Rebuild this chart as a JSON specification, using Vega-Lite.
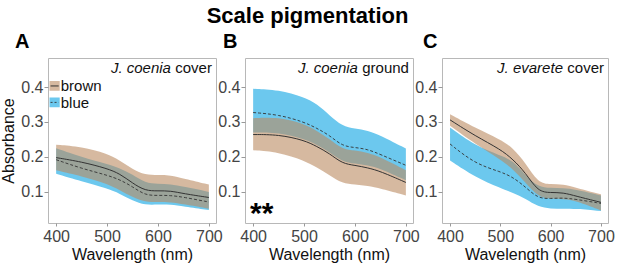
{
  "$schema": "https://vega.github.io/schema/vega-lite/v6.json",
  "padding": {"left": 0, "top": 4, "right": 0, "bottom": 4},
  "background": "white",
  "title": {"text": "Scale pigmentation", "fontSize": 22, "fontWeight": "bold", "anchor": "middle", "frame": "bounds", "color": "#000", "font": "Liberation Sans", "offset": 4},
  "config": {
    "font": "Liberation Sans",
    "view": {"stroke": "#b8b8b8", "strokeWidth": 1},
    "axis": {"labelFontSize": 16, "titleFontSize": 16, "titleFontWeight": "normal", "labelColor": "#444", "titleColor": "#111", "grid": false, "domain": false, "tickColor": "#999", "labelFont": "Liberation Sans", "titleFont": "Liberation Sans"},
    "title": {"font": "Liberation Sans"}
  },
  "datasets": {
    "d": [
      {"panel": "A", "s": "blue", "wl": 400, "lo": 0.152, "mid": 0.192, "hi": 0.225},
      {"panel": "A", "s": "blue", "wl": 450, "lo": 0.130, "mid": 0.167, "hi": 0.200},
      {"panel": "A", "s": "blue", "wl": 500, "lo": 0.110, "mid": 0.148, "hi": 0.180},
      {"panel": "A", "s": "blue", "wl": 525, "lo": 0.095, "mid": 0.135, "hi": 0.168},
      {"panel": "A", "s": "blue", "wl": 550, "lo": 0.075, "mid": 0.115, "hi": 0.150},
      {"panel": "A", "s": "blue", "wl": 575, "lo": 0.062, "mid": 0.090, "hi": 0.125},
      {"panel": "A", "s": "blue", "wl": 600, "lo": 0.064, "mid": 0.090, "hi": 0.123},
      {"panel": "A", "s": "blue", "wl": 625, "lo": 0.064, "mid": 0.090, "hi": 0.122},
      {"panel": "A", "s": "blue", "wl": 650, "lo": 0.058, "mid": 0.085, "hi": 0.115},
      {"panel": "A", "s": "blue", "wl": 700, "lo": 0.048, "mid": 0.071, "hi": 0.100},
      {"panel": "A", "s": "brown", "wl": 400, "lo": 0.162, "mid": 0.198, "hi": 0.235},
      {"panel": "A", "s": "brown", "wl": 450, "lo": 0.145, "mid": 0.186, "hi": 0.229},
      {"panel": "A", "s": "brown", "wl": 500, "lo": 0.124, "mid": 0.167, "hi": 0.210},
      {"panel": "A", "s": "brown", "wl": 525, "lo": 0.105, "mid": 0.152, "hi": 0.190},
      {"panel": "A", "s": "brown", "wl": 550, "lo": 0.085, "mid": 0.125, "hi": 0.165},
      {"panel": "A", "s": "brown", "wl": 575, "lo": 0.071, "mid": 0.103, "hi": 0.148},
      {"panel": "A", "s": "brown", "wl": 600, "lo": 0.071, "mid": 0.103, "hi": 0.148},
      {"panel": "A", "s": "brown", "wl": 625, "lo": 0.071, "mid": 0.103, "hi": 0.148},
      {"panel": "A", "s": "brown", "wl": 650, "lo": 0.065, "mid": 0.095, "hi": 0.138},
      {"panel": "A", "s": "brown", "wl": 700, "lo": 0.052, "mid": 0.084, "hi": 0.121},
      {"panel": "B", "s": "blue", "wl": 400, "lo": 0.270, "mid": 0.327, "hi": 0.395},
      {"panel": "B", "s": "blue", "wl": 450, "lo": 0.270, "mid": 0.321, "hi": 0.392},
      {"panel": "B", "s": "blue", "wl": 500, "lo": 0.252, "mid": 0.300, "hi": 0.371},
      {"panel": "B", "s": "blue", "wl": 525, "lo": 0.235, "mid": 0.282, "hi": 0.352},
      {"panel": "B", "s": "blue", "wl": 550, "lo": 0.214, "mid": 0.262, "hi": 0.319},
      {"panel": "B", "s": "blue", "wl": 575, "lo": 0.186, "mid": 0.231, "hi": 0.288},
      {"panel": "B", "s": "blue", "wl": 600, "lo": 0.181, "mid": 0.227, "hi": 0.281},
      {"panel": "B", "s": "blue", "wl": 625, "lo": 0.176, "mid": 0.222, "hi": 0.276},
      {"panel": "B", "s": "blue", "wl": 650, "lo": 0.167, "mid": 0.207, "hi": 0.262},
      {"panel": "B", "s": "blue", "wl": 700, "lo": 0.133, "mid": 0.176, "hi": 0.224},
      {"panel": "B", "s": "brown", "wl": 400, "lo": 0.219, "mid": 0.264, "hi": 0.311},
      {"panel": "B", "s": "brown", "wl": 450, "lo": 0.214, "mid": 0.264, "hi": 0.314},
      {"panel": "B", "s": "brown", "wl": 500, "lo": 0.190, "mid": 0.248, "hi": 0.295},
      {"panel": "B", "s": "brown", "wl": 525, "lo": 0.170, "mid": 0.230, "hi": 0.275},
      {"panel": "B", "s": "brown", "wl": 550, "lo": 0.148, "mid": 0.210, "hi": 0.252},
      {"panel": "B", "s": "brown", "wl": 575, "lo": 0.124, "mid": 0.181, "hi": 0.222},
      {"panel": "B", "s": "brown", "wl": 600, "lo": 0.121, "mid": 0.176, "hi": 0.219},
      {"panel": "B", "s": "brown", "wl": 625, "lo": 0.117, "mid": 0.169, "hi": 0.212},
      {"panel": "B", "s": "brown", "wl": 650, "lo": 0.110, "mid": 0.159, "hi": 0.200},
      {"panel": "B", "s": "brown", "wl": 700, "lo": 0.090, "mid": 0.127, "hi": 0.162},
      {"panel": "C", "s": "blue", "wl": 400, "lo": 0.190, "mid": 0.237, "hi": 0.284},
      {"panel": "C", "s": "blue", "wl": 450, "lo": 0.142, "mid": 0.180, "hi": 0.232},
      {"panel": "C", "s": "blue", "wl": 500, "lo": 0.111, "mid": 0.158, "hi": 0.204},
      {"panel": "C", "s": "blue", "wl": 525, "lo": 0.097, "mid": 0.142, "hi": 0.190},
      {"panel": "C", "s": "blue", "wl": 550, "lo": 0.081, "mid": 0.114, "hi": 0.147},
      {"panel": "C", "s": "blue", "wl": 575, "lo": 0.057, "mid": 0.081, "hi": 0.114},
      {"panel": "C", "s": "blue", "wl": 600, "lo": 0.052, "mid": 0.081, "hi": 0.111},
      {"panel": "C", "s": "blue", "wl": 625, "lo": 0.052, "mid": 0.083, "hi": 0.111},
      {"panel": "C", "s": "blue", "wl": 650, "lo": 0.052, "mid": 0.079, "hi": 0.107},
      {"panel": "C", "s": "blue", "wl": 700, "lo": 0.045, "mid": 0.067, "hi": 0.090},
      {"panel": "C", "s": "brown", "wl": 400, "lo": 0.289, "mid": 0.306, "hi": 0.322},
      {"panel": "C", "s": "brown", "wl": 450, "lo": 0.237, "mid": 0.260, "hi": 0.283},
      {"panel": "C", "s": "brown", "wl": 500, "lo": 0.193, "mid": 0.222, "hi": 0.250},
      {"panel": "C", "s": "brown", "wl": 525, "lo": 0.165, "mid": 0.193, "hi": 0.226},
      {"panel": "C", "s": "brown", "wl": 550, "lo": 0.127, "mid": 0.155, "hi": 0.183},
      {"panel": "C", "s": "brown", "wl": 575, "lo": 0.085, "mid": 0.100, "hi": 0.125},
      {"panel": "C", "s": "brown", "wl": 600, "lo": 0.080, "mid": 0.098, "hi": 0.122},
      {"panel": "C", "s": "brown", "wl": 625, "lo": 0.080, "mid": 0.098, "hi": 0.122},
      {"panel": "C", "s": "brown", "wl": 650, "lo": 0.075, "mid": 0.088, "hi": 0.112},
      {"panel": "C", "s": "brown", "wl": 700, "lo": 0.047, "mid": 0.070, "hi": 0.093}
    ]
  },
  "hconcat": [
    {
      "width": 168, "height": 165,
      "title": {"text": "A", "anchor": "start", "frame": "group", "dx": -33, "fontSize": 20, "fontWeight": "bold", "offset": 6, "color": "#000"},
      "encoding": {
        "x": {"type": "quantitative", "scale": {"domain": [384, 714], "nice": false, "zero": false}, "axis": {"values": [400, 500, 600, 700], "tickSize": 3, "labelPadding": 2, "labelFlush": false, "title": "Wavelength (nm)", "titlePadding": 2}},
        "y": {"type": "quantitative", "scale": {"domain": [0.011, 0.483], "nice": false, "zero": false}, "axis": {"values": [0.1, 0.2, 0.3, 0.4], "format": ".1f", "tickSize": 4, "labelPadding": 1, "title": "Absorbance", "titlePadding": 4}}
      },
      "layer": [
        {"data": {"name": "d"}, "transform": [{"filter": "datum.panel === 'A' && datum.s === 'blue'"}], "mark": {"type": "area", "interpolate": "basis", "color": "#6cc8ee", "opacity": 1}, "encoding": {"x": {"field": "wl", "type": "quantitative"}, "y": {"field": "lo", "type": "quantitative"}, "y2": {"field": "hi"}}},
        {"data": {"name": "d"}, "transform": [{"filter": "datum.panel === 'A' && datum.s === 'brown'"}], "mark": {"type": "area", "interpolate": "basis", "color": "#bb8a61", "opacity": 0.6}, "encoding": {"x": {"field": "wl", "type": "quantitative"}, "y": {"field": "lo", "type": "quantitative"}, "y2": {"field": "hi"}}},
        {"data": {"name": "d"}, "transform": [{"filter": "datum.panel === 'A' && datum.s === 'brown'"}], "mark": {"type": "line", "interpolate": "basis", "color": "#333", "strokeWidth": 1}, "encoding": {"x": {"field": "wl", "type": "quantitative"}, "y": {"field": "mid", "type": "quantitative"}}},
        {"data": {"name": "d"}, "transform": [{"filter": "datum.panel === 'A' && datum.s === 'blue'"}], "mark": {"type": "line", "interpolate": "basis", "color": "#333", "strokeWidth": 0.9, "strokeDash": [3, 2]}, "encoding": {"x": {"field": "wl", "type": "quantitative"}, "y": {"field": "mid", "type": "quantitative"}}},
        {"data": {"values": [{}]}, "mark": {"type": "rect", "color": "#d6b9a0"}, "encoding": {"x": {"datum": 387}, "x2": {"datum": 407}, "y": {"datum": 0.417}, "y2": {"datum": 0.389}}},
        {"data": {"values": [{}]}, "mark": {"type": "rect", "color": "#6cc8ee"}, "encoding": {"x": {"datum": 387}, "x2": {"datum": 407}, "y": {"datum": 0.370}, "y2": {"datum": 0.342}}},
        {"data": {"values": [{}]}, "mark": {"type": "rule", "color": "#333", "strokeWidth": 1}, "encoding": {"x": {"datum": 389}, "x2": {"datum": 405}, "y": {"datum": 0.403}}},
        {"data": {"values": [{}]}, "mark": {"type": "rule", "color": "#333", "strokeWidth": 0.9, "strokeDash": [2, 2]}, "encoding": {"x": {"datum": 389}, "x2": {"datum": 405}, "y": {"datum": 0.356}}},
        {"data": {"values": [{}]}, "mark": {"type": "text", "align": "left", "baseline": "middle", "fontSize": 15, "color": "#111"}, "encoding": {"x": {"datum": 409}, "y": {"datum": 0.404}, "text": {"value": "brown"}}},
        {"data": {"values": [{}]}, "mark": {"type": "text", "align": "left", "baseline": "middle", "fontSize": 15, "color": "#111"}, "encoding": {"x": {"datum": 409}, "y": {"datum": 0.355}, "text": {"value": "blue"}}},
        {"data": {"values": [{}]}, "mark": {"type": "text", "align": "right", "baseline": "alphabetic", "fontSize": 15, "color": "#111"}, "encoding": {"x": {"datum": 706}, "y": {"datum": 0.44}, "text": {"value": "cover"}}},
        {"data": {"values": [{}]}, "mark": {"type": "text", "align": "right", "baseline": "alphabetic", "fontSize": 15, "fontStyle": "italic", "color": "#111", "dx": -41}, "encoding": {"x": {"datum": 706}, "y": {"datum": 0.44}, "text": {"value": "J. coenia"}}}
      ]
    },
    {
      "width": 168, "height": 165,
      "title": {"text": "B", "anchor": "start", "frame": "group", "dx": -22, "fontSize": 20, "fontWeight": "bold", "offset": 6, "color": "#000"},
      "encoding": {
        "x": {"type": "quantitative", "scale": {"domain": [384, 714], "nice": false, "zero": false}, "axis": {"values": [400, 500, 600, 700], "tickSize": 3, "labelPadding": 2, "labelFlush": false, "title": "Wavelength (nm)", "titlePadding": 2}},
        "y": {"type": "quantitative", "scale": {"domain": [0.011, 0.483], "nice": false, "zero": false}, "axis": {"values": [0.1, 0.2, 0.3, 0.4], "format": ".1f", "tickSize": 4, "labelPadding": 1, "title": null}}
      },
      "layer": [
        {"data": {"name": "d"}, "transform": [{"filter": "datum.panel === 'B' && datum.s === 'blue'"}], "mark": {"type": "area", "interpolate": "basis", "color": "#6cc8ee", "opacity": 1}, "encoding": {"x": {"field": "wl", "type": "quantitative"}, "y": {"field": "lo", "type": "quantitative"}, "y2": {"field": "hi"}}},
        {"data": {"name": "d"}, "transform": [{"filter": "datum.panel === 'B' && datum.s === 'brown'"}], "mark": {"type": "area", "interpolate": "basis", "color": "#bb8a61", "opacity": 0.6}, "encoding": {"x": {"field": "wl", "type": "quantitative"}, "y": {"field": "lo", "type": "quantitative"}, "y2": {"field": "hi"}}},
        {"data": {"name": "d"}, "transform": [{"filter": "datum.panel === 'B' && datum.s === 'brown'"}], "mark": {"type": "line", "interpolate": "basis", "color": "#333", "strokeWidth": 1}, "encoding": {"x": {"field": "wl", "type": "quantitative"}, "y": {"field": "mid", "type": "quantitative"}}},
        {"data": {"name": "d"}, "transform": [{"filter": "datum.panel === 'B' && datum.s === 'blue'"}], "mark": {"type": "line", "interpolate": "basis", "color": "#333", "strokeWidth": 0.9, "strokeDash": [3, 2]}, "encoding": {"x": {"field": "wl", "type": "quantitative"}, "y": {"field": "mid", "type": "quantitative"}}},
        {"data": {"values": [{}]}, "mark": {"type": "text", "align": "left", "baseline": "alphabetic", "fontSize": 30, "fontWeight": "bold", "color": "#000"}, "encoding": {"x": {"datum": 394}, "y": {"datum": 0.01}, "text": {"value": "**"}}},
        {"data": {"values": [{}]}, "mark": {"type": "text", "align": "right", "baseline": "alphabetic", "fontSize": 15, "color": "#111"}, "encoding": {"x": {"datum": 706}, "y": {"datum": 0.44}, "text": {"value": "ground"}}},
        {"data": {"values": [{}]}, "mark": {"type": "text", "align": "right", "baseline": "alphabetic", "fontSize": 15, "fontStyle": "italic", "color": "#111", "dx": -51}, "encoding": {"x": {"datum": 706}, "y": {"datum": 0.44}, "text": {"value": "J. coenia"}}}
      ]
    },
    {
      "width": 166, "height": 165,
      "title": {"text": "C", "anchor": "start", "frame": "group", "dx": -19, "fontSize": 20, "fontWeight": "bold", "offset": 6, "color": "#000"},
      "encoding": {
        "x": {"type": "quantitative", "scale": {"domain": [384, 714], "nice": false, "zero": false}, "axis": {"values": [400, 500, 600, 700], "tickSize": 3, "labelPadding": 2, "labelFlush": false, "title": "Wavelength (nm)", "titlePadding": 2}},
        "y": {"type": "quantitative", "scale": {"domain": [0.011, 0.483], "nice": false, "zero": false}, "axis": {"values": [0.1, 0.2, 0.3, 0.4], "format": ".1f", "tickSize": 4, "labelPadding": 1, "title": null}}
      },
      "layer": [
        {"data": {"name": "d"}, "transform": [{"filter": "datum.panel === 'C' && datum.s === 'blue'"}], "mark": {"type": "area", "interpolate": "basis", "color": "#6cc8ee", "opacity": 1}, "encoding": {"x": {"field": "wl", "type": "quantitative"}, "y": {"field": "lo", "type": "quantitative"}, "y2": {"field": "hi"}}},
        {"data": {"name": "d"}, "transform": [{"filter": "datum.panel === 'C' && datum.s === 'brown'"}], "mark": {"type": "area", "interpolate": "basis", "color": "#bb8a61", "opacity": 0.6}, "encoding": {"x": {"field": "wl", "type": "quantitative"}, "y": {"field": "lo", "type": "quantitative"}, "y2": {"field": "hi"}}},
        {"data": {"name": "d"}, "transform": [{"filter": "datum.panel === 'C' && datum.s === 'brown'"}], "mark": {"type": "line", "interpolate": "basis", "color": "#333", "strokeWidth": 1}, "encoding": {"x": {"field": "wl", "type": "quantitative"}, "y": {"field": "mid", "type": "quantitative"}}},
        {"data": {"name": "d"}, "transform": [{"filter": "datum.panel === 'C' && datum.s === 'blue'"}], "mark": {"type": "line", "interpolate": "basis", "color": "#333", "strokeWidth": 0.9, "strokeDash": [3, 2]}, "encoding": {"x": {"field": "wl", "type": "quantitative"}, "y": {"field": "mid", "type": "quantitative"}}},
        {"data": {"values": [{}]}, "mark": {"type": "text", "align": "right", "baseline": "alphabetic", "fontSize": 15, "color": "#111"}, "encoding": {"x": {"datum": 706}, "y": {"datum": 0.44}, "text": {"value": "cover"}}},
        {"data": {"values": [{}]}, "mark": {"type": "text", "align": "right", "baseline": "alphabetic", "fontSize": 15, "fontStyle": "italic", "color": "#111", "dx": -41}, "encoding": {"x": {"datum": 706}, "y": {"datum": 0.44}, "text": {"value": "J. evarete"}}}
      ]
    }
  ],
  "spacing": 29,
  "bounds": "flush"
}
